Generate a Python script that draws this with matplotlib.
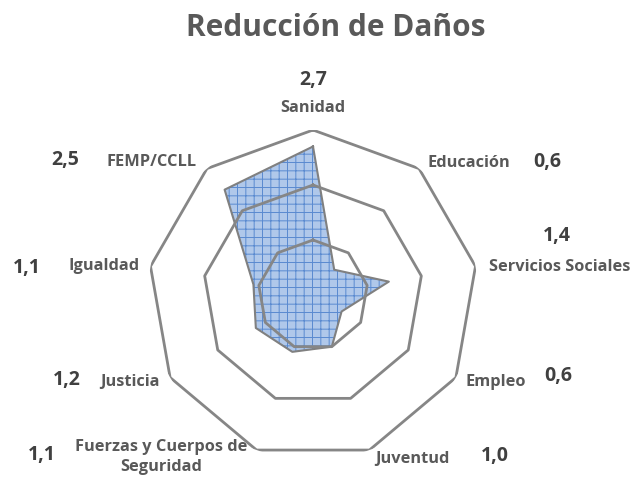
import numpy as np
import matplotlib
matplotlib.use('Agg')
import matplotlib.pyplot as plt

plt.rcParams['font.family'] = ['Open Sans', 'DejaVu Sans']
plt.rcParams['hatch.linewidth'] = 0.7
plt.rcParams['hatch.color'] = '#5a8ad0'

# datos
categorias = ['Sanidad', 'Educación', 'Servicios Sociales', 'Empleo', 'Juventud',
              'Fuerzas y Cuerpos de\nSeguridad', 'Justicia', 'Igualdad', 'FEMP/CCLL']
valores = [2.7, 0.6, 1.4, 0.6, 1.0, 1.1, 1.2, 1.1, 2.5]
anillos = [1, 2, 3]

# posiciones de los textos (pixeles desde arriba-izquierda)
pos_cat = [(313, 108), (469, 163), (560, 267), (496, 382), (412, 459),
           (161, 457), (130, 382), (104, 266), (152, 162)]
pos_val = [(313, 80), (547, 162), (557, 236), (558, 376), (495, 456),
           (42, 455), (67, 380), (27, 268), (65, 160)]

W, H = 639, 480
fig = plt.figure(figsize=(W / 100, H / 100), dpi=100)
cx, cy, rad = 313, 295, 165
ax = fig.add_axes([(cx - rad) / W, (H - cy - rad) / H, 2 * rad / W, 2 * rad / H], polar=True)
ax.set_theta_zero_location('N')
ax.set_theta_direction(-1)
ax.set_ylim(0, 3)
ax.axis('off')

n = len(categorias)
ang = np.linspace(0, 2 * np.pi, n, endpoint=False)
ang_c = np.append(ang, ang[0])

v = np.append(valores, valores[0])
ax.fill(ang_c, v, facecolor='#b0c8ea', edgecolor='#5a8ad0', hatch='++', linewidth=0, zorder=2)
ax.plot(ang_c, v, color='#808080', linewidth=1.5, zorder=3)

for r in anillos:
    ax.plot(ang_c, [r] * (n + 1), color='#868686', linewidth=2.0, zorder=4)

gris = '#595959'
for txt, (x, y) in zip(categorias, pos_cat):
    fig.text(x / W, 1 - y / H, txt, ha='center', va='center', fontsize=11.8,
             fontweight='bold', color=gris, linespacing=1.35)
for val, (x, y) in zip(valores, pos_val):
    fig.text(x / W, 1 - y / H, f'{val:.1f}'.replace('.', ','), ha='center', va='center',
             fontsize=14, fontweight='bold', color='#404040')

fig.text(336 / W, 1 - 28 / H, 'Reducción de Daños', ha='center', va='center',
         fontsize=21.5, fontweight='bold', color=gris)

fig.savefig('out.png', dpi=100)
